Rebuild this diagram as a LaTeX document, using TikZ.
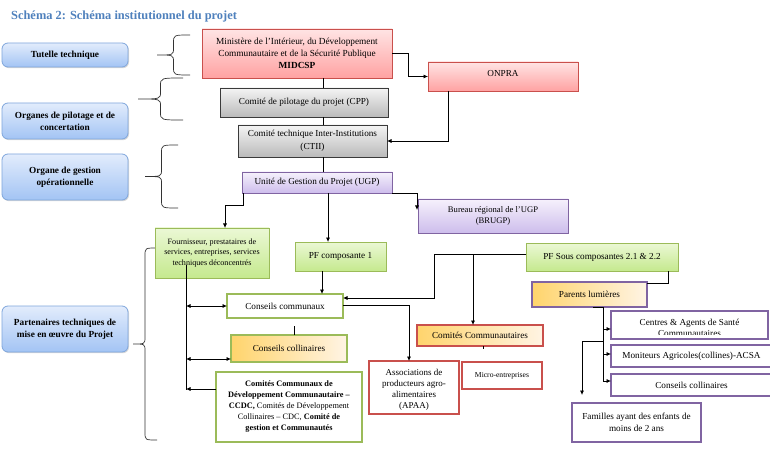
\documentclass[tikz,border=0pt]{standalone}
\usepackage{fontspec}
\setmainfont{Liberation Serif}
\usetikzlibrary{arrows.meta,shadows,calc}
\definecolor{titleblue}{HTML}{4F81BD}
\definecolor{blueT}{HTML}{E2ECFC}
\definecolor{blueB}{HTML}{A3C4F4}
\definecolor{blueD}{HTML}{7FA6DC}
\definecolor{redT}{HTML}{FFE4E4}
\definecolor{redB}{HTML}{FFA2A2}
\definecolor{redD}{HTML}{C9504C}
\definecolor{grayT}{HTML}{F4F4F4}
\definecolor{grayB}{HTML}{BABABA}
\definecolor{grayD}{HTML}{3A3A3A}
\definecolor{purT}{HTML}{F6F1FC}
\definecolor{purB}{HTML}{CDBDEC}
\definecolor{purD}{HTML}{8064A2}
\definecolor{greenT}{HTML}{EBF8D5}
\definecolor{greenB}{HTML}{C5E98E}
\definecolor{greenD}{HTML}{9BBB59}
\definecolor{orL}{HTML}{FFD46C}
\definecolor{orR}{HTML}{FFF4E4}
\newcommand\mybrace[4]{%
  \pgfmathsetmacro\bS{(#1+#4)/2}\pgfmathsetmacro\bM{(#2+#3)/2}%
  \draw[brc] (#1,#2) .. controls (\bS,#2) and (\bS,#2) .. (\bS,#2+8) -- (\bS,\bM-7)
    .. controls (\bS,\bM) and (\bS,\bM) .. (#4,\bM)
    .. controls (\bS,\bM) and (\bS,\bM) .. (\bS,\bM+7) -- (\bS,#3-8)
    .. controls (\bS,#3) and (\bS,#3) .. (#1,#3);}
\begin{document}
\begin{tikzpicture}[x=1pt,y=-1pt,
  box/.style={inner sep=1pt, outer sep=0pt, align=center, line width=0.8pt},
  lbox/.style={box, rounded corners=6pt, draw=blueD, top color=blueT, bottom color=blueB,
     drop shadow={opacity=0.3,shadow xshift=1pt,shadow yshift=-1.2pt},
     font=\bfseries\fontsize{9.3}{12}\selectfont},
  txt/.style={align=center, font=\fontsize{9.2}{12}\selectfont},
  redg/.style={box, txt, draw=redD, top color=redT, bottom color=redB},
  grayg/.style={box, txt, draw=grayD, top color=grayT, bottom color=grayB},
  purg/.style={box, txt, draw=purD, top color=purT, bottom color=purB},
  greeng/.style={box, txt, draw=greenD, top color=greenT, bottom color=greenB,
     drop shadow={opacity=0.25,shadow xshift=1pt,shadow yshift=-1pt}},
  greenw/.style={box, txt, draw=greenD, line width=1.6pt, fill=white},
  orng/.style={box, txt, left color=orL, right color=orR, line width=1.6pt},
  redw/.style={box, txt, draw=redD, line width=1.5pt, fill=white},
  purw/.style={box, txt, draw=purD, line width=1.6pt, fill=white},
  brc/.style={line width=0.7pt, draw=black!80},
  ln/.style={line width=0.7pt},
  arr/.style={ln, -{Latex[length=4.5pt,width=4pt]}},
  darr/.style={ln, {Latex[length=4.5pt,width=4pt]}-{Latex[length=4.5pt,width=4pt]}}
]
\useasboundingbox (0,0) rectangle (770,470);
\fill[white] (0,0) rectangle (770,470);

\node[anchor=west, inner sep=0, text=titleblue, font=\bfseries\fontsize{12.4}{14}\selectfont] (title) at (11,17) {Schéma 2: Schéma institutionnel du projet};

% left labels
\node[lbox, minimum width=126, minimum height=24] (tut) at (65,55) {Tutelle technique};
\node[lbox, minimum width=126, minimum height=36] (org) at (65,121) {Organes de pilotage et de\\concertation};
\node[lbox, minimum width=126, minimum height=46] (ogo) at (65,177) {Organe de gestion\\opérationnelle};
\node[lbox, minimum width=126, minimum height=46] (ptm) at (65,329) {Partenaires techniques de\\mise en œuvre du Projet};

% braces
\mybrace{190}{35}{75}{157}
\mybrace{183}{78}{120}{138}
\mybrace{178}{145}{208}{145}
\mybrace{157}{248}{440}{133}

% central column
\node[redg, minimum width=190, minimum height=49, font=\fontsize{9.3}{11.8}\selectfont] (mid) at (297,53.5) {Ministère de l'Intérieur, du Développement\\Communautaire et de la Sécurité Publique\\\textbf{MIDCSP}};
\node[grayg, minimum width=168, minimum height=29] (cpp) at (304,102.5) {Comité de pilotage du projet (CPP)};
\node[grayg, minimum width=149, minimum height=32, font=\fontsize{9.2}{13.5}\selectfont] (ctii) at (312.5,141) {Comité technique Inter-Institutions\\(CTII)};
\node[purg, minimum width=150, minimum height=21] (ugp) at (317,182.5) {Unité de Gestion du Projet (UGP)};
\node[redg, minimum width=150, minimum height=29, text depth=7pt] (onpra) at (503,76.5) {ONPRA};
\node[purg, minimum width=150, minimum height=34, font=\fontsize{8.6}{11.5}\selectfont] (brugp) at (493,216) {Bureau régional de l'UGP\\(BRUGP)};

% lower left
\node[greeng, minimum width=114, minimum height=50, font=\fontsize{8.1}{10.5}\selectfont] (four) at (212,253) {Fournisseur, prestataires de\\services, entreprises, services\\techniques déconcentrés};
\node[greeng, minimum width=91, minimum height=29] (pf1) at (340.5,256.5) {PF composante 1};
\node[greenw, minimum width=116, minimum height=24] (cc) at (285,306) {Conseils communaux};
\node[orng, draw=greenD, minimum width=116, minimum height=27] (col1) at (289,348.5) {Conseils collinaires};
\node[greenw, minimum width=146, minimum height=70, font=\fontsize{8.3}{11}\selectfont] (ccdc) at (289,407) {\textbf{Comités Communaux de}\\\textbf{Développement Communautaire –}\\\textbf{CCDC,} Comités de Développement\\Collinaires – CDC, \textbf{Comité de}\\\textbf{gestion et Communautés}};

% middle lower
\node[greeng, minimum width=152, minimum height=28] (pfs) at (602,257) {PF Sous composantes 2.1 \& 2.2};
\node[redw, minimum width=90, minimum height=53] (apaa) at (414,387.5) {};
\begin{scope}
  \clip (370,362) rectangle (458,410);
  \node[txt, font=\fontsize{9}{11}\selectfont] (apaatxt) at (414,390) {Associations de\\producteurs agro-\\alimentaires\\(APAA)};
\end{scope}
\node[orng, draw=redD, line width=1.3pt, minimum width=126, minimum height=21] (cca) at (480,335.5) {Comités Communautaires};
\node[redw, minimum width=80, minimum height=27, font=\fontsize{7.6}{9}\selectfont] (micro) at (502,375.5) {Micro-entreprises};

% right side
\node[orng, draw=purD, minimum width=115, minimum height=25] (par) at (589.5,294.5) {Parents lumières};
\node[purw, minimum width=157, minimum height=28] (cen) at (689.5,325) {};
\begin{scope}
  \clip (612,312) rectangle (767,334);
  \node[txt, font=\fontsize{9.2}{11}\selectfont] (centxt) at (689.5,327.5) {Centres \& Agents de Santé\\Communautaires};
\end{scope}
\node[purw, minimum width=161, minimum height=22] (mon) at (691.5,356) {Moniteurs Agricoles(collines)-ACSA};
\node[purw, minimum width=161, minimum height=22] (col2) at (691.5,385) {Conseils collinaires};
\node[purw, minimum width=129, minimum height=39] (fam) at (636.5,422.5) {Familles ayant des enfants de\\moins de 2 ans};

% connectors top
\draw[arr] (mid.east) -- (408,53.5) |- (onpra.west);
\draw[arr] ([xshift=-55pt]onpra.south) |- (ctii.east);
\draw[ln] ([xshift=26pt]mid.south) -- ([xshift=19pt]cpp.north);
\draw[ln] ([xshift=19pt]cpp.south) -- ([xshift=10.5pt]ctii.north);
\draw[ln] ([xshift=10.5pt]ctii.south) -- ([xshift=6pt]ugp.north);
\draw[arr] ([xshift=11pt]ugp.south) -- ([xshift=-12.5pt]pf1.north);
\draw[arr] ([xshift=1pt]ugp.south west) -- ++(0,12) -| ([xshift=13pt]four.north);
\draw[arr] (ugp.south east) -| ([xshift=-1pt,yshift=-11pt]brugp.north west);

% left vertical bus
\coordinate (vl) at (186,265);
\draw[ln] (vl) -- (186,390);
\draw[darr] (vl |- cc.west) -- (cc.west);
\draw[darr] (vl |- 0,359) -- ([yshift=-10.5pt]col1.west);
\draw[arr] ([yshift=18pt]ccdc.west) -- (vl |- 0,389);
\draw[arr] ([xshift=-18.5pt]pf1.south) -- ([xshift=37pt]cc.north);
\draw[ln] ([xshift=5pt]col1.north) -- ++(0,-9);

% PF sous composantes
\draw[arr] ([yshift=3pt]pfs.west) -| (434,298) -- ([yshift=8pt]cc.east);
\coordinate (j1) at (473,254);
\draw[arr] (j1) -- ([xshift=-7pt]cca.north);
\draw[ln] ([xshift=3pt]cca.south) -- ++(0,3);
\draw[arr] ([yshift=1pt]cc.east) -| ([xshift=-5pt]apaa.north);
\draw[ln] ([xshift=66pt]pfs.south) |- ([yshift=-1pt]par.north east);

% Parents lumieres bus
\coordinate (v2) at (603,307);
\draw[ln] ([xshift=3.5pt]par.south) -- (v2) -- (603,381);
\draw[arr] (v2 |- 0,329) -- ([yshift=-4pt]cen.west);
\draw[arr] (v2 |- 0,354) -- ([yshift=2pt]mon.west);
\draw[arr] (v2 |- 0,381) -- ([yshift=4pt]col2.west);
\coordinate (j2) at (603,341);
\draw[arr] (j2) -| ([xshift=-54.5pt,yshift=8pt]fam.north);
\end{tikzpicture}
\end{document}
